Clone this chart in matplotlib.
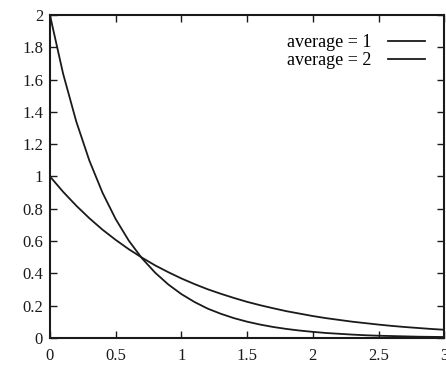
import matplotlib
matplotlib.use("Agg")
import matplotlib.pyplot as plt

# values, x step 0.1
x = [0.0, 0.1, 0.2, 0.3, 0.4, 0.5, 0.6, 0.7, 0.8, 0.9, 1.0,
     1.1, 1.2, 1.3, 1.4, 1.5, 1.6, 1.7, 1.8, 1.9, 2.0,
     2.1, 2.2, 2.3, 2.4, 2.5, 2.6, 2.7, 2.8, 2.9, 3.0]
avg1 = [1.0, 0.905, 0.819, 0.741, 0.670, 0.607, 0.549, 0.497, 0.449, 0.407, 0.368,
        0.333, 0.301, 0.273, 0.247, 0.223, 0.202, 0.183, 0.165, 0.150, 0.135,
        0.122, 0.111, 0.100, 0.091, 0.082, 0.074, 0.067, 0.061, 0.055, 0.050]
avg2 = [2.0, 1.637, 1.341, 1.098, 0.899, 0.736, 0.602, 0.493, 0.404, 0.331, 0.271,
        0.222, 0.181, 0.149, 0.122, 0.100, 0.082, 0.067, 0.055, 0.045, 0.037,
        0.030, 0.025, 0.020, 0.016, 0.013, 0.011, 0.009, 0.007, 0.006, 0.005]
labels = ["average = 1", "average = 2"]
xticks = [0, 0.5, 1, 1.5, 2, 2.5, 3]
xtick_labels = ["0", "0.5", "1", "1.5", "2", "2.5", "3"]
yticks = [0, 0.2, 0.4, 0.6, 0.8, 1, 1.2, 1.4, 1.6, 1.8, 2]
ytick_labels = ["0", "0.2", "0.4", "0.6", "0.8", "1", "1.2", "1.4", "1.6", "1.8", "2"]

plt.rcParams["font.family"] = ["Liberation Serif", "DejaVu Serif"]

fig = plt.figure(figsize=(4.46, 3.68), dpi=100)
ax = fig.add_axes([0.112, 0.082, 0.884, 0.877])

ax.plot(x, avg1, color="#1a1a1a", linewidth=1.3, label=labels[0])
ax.plot(x, avg2, color="#1a1a1a", linewidth=1.3, label=labels[1])

ax.set_xlim(0, 3)
ax.set_ylim(0, 2)
ax.set_xticks(xticks)
ax.set_xticklabels(xtick_labels)
ax.set_yticks(yticks)
ax.set_yticklabels(ytick_labels)
ax.tick_params(direction="in", length=5, width=1, top=True, right=True,
               labelsize=12, colors="#1a1a1a", pad=5)
ax.tick_params(axis="x", pad=7)
for s in ax.spines.values():
    s.set_linewidth(1.5)
    s.set_color("#1a1a1a")

ax.legend(loc="upper right", frameon=False, markerfirst=False, fontsize=13,
          handlelength=2.05, handletextpad=0.95, labelspacing=0.05,
          borderaxespad=0.6, borderpad=0.45)

fig.savefig("out.png", dpi=100)
